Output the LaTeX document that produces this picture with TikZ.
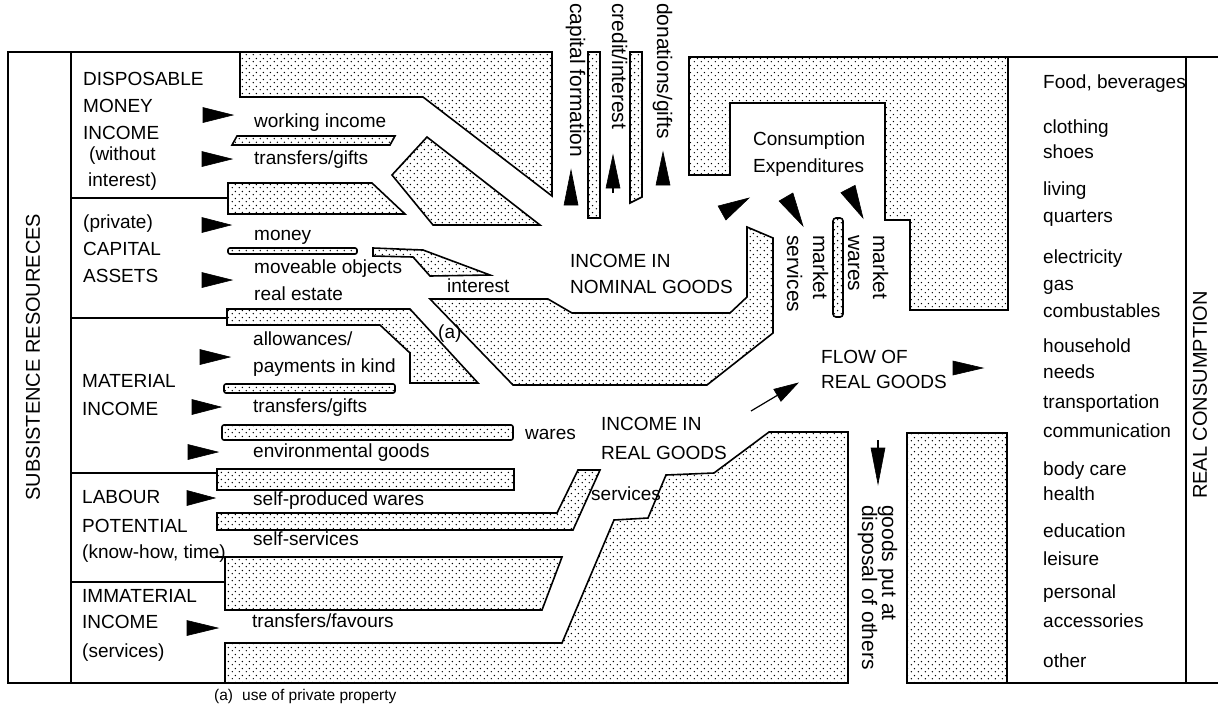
\documentclass[tikz,border=0pt]{standalone}
\usepackage{fontspec}
\setmainfont{Liberation Sans}
\usetikzlibrary{calc,patterns}

% dot stipple used for all shaded flow blocks
\pgfdeclarepatternformonly{stipple}{\pgfpointorigin}{\pgfqpoint{7pt}{7pt}}{\pgfqpoint{7pt}{7pt}}{%
  \pgfpathcircle{\pgfqpoint{1.5pt}{1.5pt}}{0.85pt}%
  \pgfpathcircle{\pgfqpoint{5pt}{5pt}}{0.85pt}%
  \pgfusepath{fill}}

\tikzset{
  blk/.style={pattern=stipple, pattern color=black, draw=black, line width=1.6pt, line join=miter},
  rule/.style={draw=black, line width=1.4pt},
  lbl/.style={anchor=west, inner sep=0pt, text height=13.5pt, text depth=3.5pt,
              font=\fontsize{19}{22}\selectfont},
  vlbl/.style={anchor=west, inner sep=0pt, rotate=-90, text height=14pt, text depth=4pt,
               font=\fontsize{21}{25}\selectfont},
  small/.style={anchor=west, inner sep=0pt, font=\fontsize{15.5}{18}\selectfont},
  stem/.style={draw=black, line width=1.2pt},
  head/.style={fill=black, draw=black, line width=0.6pt, line join=miter},
}

\begin{document}
\begin{tikzpicture}[x=1pt,y=-1pt]
\useasboundingbox (0,0) rectangle (1218,721);

% ---------- left frame: resources column and income boxes ----------
\draw[rule] (240,52) -- (8,52) -- (8,683) -- (225,683);
\draw[rule] (71,52) -- (71,683);
\draw[rule] (71,198) -- (228,198);
\draw[rule] (71,318) -- (227,318);
\draw[rule] (71,473) -- (217,473);
\draw[rule] (71,582) -- (225,582);
\draw[rule] (215,557) -- (225,557);

% ---------- right frame: consumption column ----------
\draw[rule] (1008,57) -- (1218,57);
\draw[rule] (1007,683) -- (1218,683);
\draw[rule] (1186,57) -- (1186,683);

% ---------- stippled flow walls ----------
\draw[blk] (240,52) -- (552,52) -- (552,196) -- (423,97) -- (240,97) -- cycle;
\draw[blk] (392,175) -- (427,137) -- (540,225) -- (433,225) -- cycle;
\draw[blk] (232,145) -- (237,136) -- (395,136) -- (390,145) -- cycle;
\draw[blk] (228,183) -- (372,183) -- (405,214) -- (228,214) -- cycle;
\draw[blk, rounded corners=2pt] (228,248) rectangle (357,254);
\draw[blk] (373,248) -- (423,250) -- (490,275) -- (430,276) -- (413,257) -- (373,256) -- cycle;
\draw[blk] (227,309) -- (410,309) -- (478,383) -- (410,383) -- (410,353) -- (380,325) -- (227,325) -- cycle;
\draw[blk] (430,299) -- (548,299) -- (572,313) -- (730,313) -- (747,297) -- (747,227)
           -- (773,238) -- (773,333) -- (707,385) -- (513,385) -- cycle;
\draw[blk, rounded corners=2pt] (224,384) rectangle (395,393);
\draw[blk, rounded corners=2pt] (222,425) rectangle (513,440);
\draw[blk] (217,469) rectangle (514,490);
\draw[blk] (217,513) -- (557,513) -- (578,470) -- (600,470) -- (573,530) -- (217,530) -- cycle;
\draw[blk] (225,557) -- (562,557) -- (542,610) -- (225,610) -- cycle;
\draw[blk] (769,432) -- (848,432) -- (848,683) -- (225,683) -- (225,643) -- (562,643)
           -- (614,520) -- (648,518) -- (666,475) -- (714,473) -- cycle;
\draw[blk] (689,57) -- (1008,57) -- (1008,310) -- (910,310) -- (910,220) -- (885,220)
           -- (885,103) -- (730,103) -- (730,175) -- (689,175) -- cycle;
\draw[blk] (907,433) rectangle (1007,683);
\draw[blk] (588,52) rectangle (600,218);
\draw[blk] (630,52) -- (642,52) -- (642,197) -- (630,203) -- cycle;
\draw[blk, rounded corners=3pt] (833,317) -- (833,218) -- (843,218) -- (843,317) -- cycle;

% ---------- flag arrows: base centre, tip, half-width of base ----------
\foreach \n/\xa/\ya/\xb/\yb/\hw in {
    fa/203/115/233/115/7.5pt, fb/202/159/232/159/7.5pt,
    fc/202/225/231/225/7.5pt, fd/202/280/232/280/7.5pt,
    fe/200/357/230/357/7.5pt, ff/192/407/221/407/7.5pt,
    fg/188/452/218/452/7.5pt, fh/187/498/215/498/7.5pt,
    fi/187/628/218/628/7.5pt,
    ua/571/205/571/170/7pt, uc/663/185/663/152/7pt,
    ca/722/213/749/198/8pt, cb/786/197/803/226/8pt, cc/848/189/863/218/8pt,
    ra/953/368/983/368/7pt} {
  \coordinate (\n s) at (\xa,\ya);
  \coordinate (\n e) at (\xb,\yb);
  \fill[head] ($(\n s)!\hw!90:(\n e)$) -- (\n e) -- ($(\n s)!\hw!-90:(\n e)$) -- cycle;
}

% ---------- arrows with a shaft: tail, tip, head length, head half-width ----------
\foreach \n/\xa/\ya/\xb/\yb/\hl/\hw in {
    ub/613/193/613/155/33pt/7pt, da/878/440/878/484/36pt/7pt,
    ga/751/411/798/383/24pt/7pt} {
  \coordinate (\n s) at (\xa,\ya);
  \coordinate (\n e) at (\xb,\yb);
  \coordinate (\n b) at ($(\n e)!\hl!(\n s)$);
  \draw[stem] (\n s) -- (\n b);
  \fill[head] ($(\n b)!\hw!90:(\n e)$) -- (\n e) -- ($(\n b)!\hw!-90:(\n e)$) -- cycle;
}

% ---------- resource categories ----------
\node[rotate=90, inner sep=0pt, font=\fontsize{20}{24}\selectfont] (subs) at (33,357) {SUBSISTENCE RESOURECES};
\node[lbl] (dm1) at (83,80)  {DISPOSABLE};
\node[lbl] (dm2) at (83,107) {MONEY};
\node[lbl] (dm3) at (83,134) {INCOME};
\node[lbl] (dm4) at (89,155) {(without};
\node[lbl] (dm5) at (88,181) {interest)};
\node[lbl] (ca1) at (83,223) {(private)};
\node[lbl] (ca2) at (83,250) {CAPITAL};
\node[lbl] (ca3) at (83,277) {ASSETS};
\node[lbl] (mi1) at (82,382) {MATERIAL};
\node[lbl] (mi2) at (82,410) {INCOME};
\node[lbl] (lp1) at (82,498) {LABOUR};
\node[lbl] (lp2) at (82,527) {POTENTIAL};
\node[lbl] (lp3) at (82,553) {(know-how, time)};
\node[lbl] (ii1) at (82,597) {IMMATERIAL};
\node[lbl] (ii2) at (82,623) {INCOME};
\node[lbl] (ii3) at (82,652) {(services)};

% ---------- individual flows ----------
\node[lbl] (t1)  at (254,122) {working income};
\node[lbl] (t2)  at (254,159) {transfers/gifts};
\node[lbl] (t3)  at (254,235) {money};
\node[lbl] (t4)  at (254,268) {moveable objects};
\node[lbl] (t5)  at (254,295) {real estate};
\node[lbl] (t6)  at (447,287) {interest};
\node[lbl] (t7)  at (438,333) {(a)};
\node[lbl] (t8)  at (253,340) {allowances/};
\node[lbl] (t9)  at (253,367) {payments in kind};
\node[lbl] (t10) at (253,407) {transfers/gifts};
\node[lbl] (t11) at (525,434) {wares};
\node[lbl] (t12) at (253,452) {environmental goods};
\node[lbl] (t13) at (253,500) {self-produced wares};
\node[lbl] (t14) at (253,540) {self-services};
\node[lbl] (t15) at (591,495) {services};
\node[lbl] (t16) at (252,622) {transfers/favours};

% ---------- outflows at the top ----------
\node[vlbl] (o1) at (575,3) {capital formation};
\node[vlbl] (o2) at (617,3) {credit/interest};
\node[vlbl] (o3) at (662,3) {donations/gifts};

% ---------- central pools ----------
\node[lbl] (n1) at (570,262) {INCOME IN};
\node[lbl] (n2) at (570,288) {NOMINAL GOODS};
\node[lbl] (r1) at (601,425) {INCOME IN};
\node[lbl] (r2) at (601,454) {REAL GOODS};
\node[lbl] (ce1) at (753,140) {Consumption};
\node[lbl] (ce2) at (753,167) {Expenditures};
\node[lbl] (fr1) at (821,358) {FLOW OF};
\node[lbl] (fr2) at (821,383) {REAL GOODS};
\node[vlbl] (m1) at (818,235) {market};
\node[vlbl] (m2) at (792,235) {services};
\node[vlbl] (m3) at (878,235) {market};
\node[vlbl] (m4) at (853,235) {wares};
\node[vlbl] (g1) at (887,505) {goods put at};
\node[vlbl] (g2) at (867,505) {disposal of others};

% ---------- real consumption column ----------
\foreach \i/\y/\t in {1/83/{Food, beverages}, 2/128/clothing, 3/153/shoes, 4/190/living,
    5/217/quarters, 6/258/electricity, 7/285/gas, 8/312/combustables, 9/347/household,
    10/373/needs, 11/403/transportation, 12/432/communication, 13/470/body care,
    14/495/health, 15/532/education, 16/560/leisure, 17/593/personal,
    18/622/accessories, 19/662/other} {
  \node[lbl] (rc\i) at (1043,\y) {\t};
}
\node[rotate=90, inner sep=0pt, font=\fontsize{20}{24}\selectfont] (realc) at (1200,395) {REAL CONSUMPTION};

% ---------- footnote ----------
\node[small] (fn1) at (214,696) {(a)};
\node[small] (fn2) at (242,696) {use of private property};
\end{tikzpicture}
\end{document}
